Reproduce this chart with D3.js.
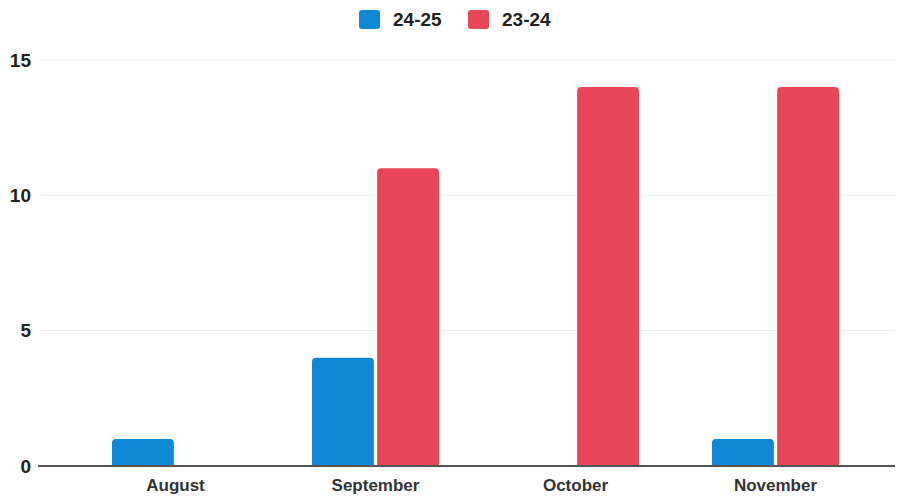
<!DOCTYPE html>
<html>
<head>
<meta charset="utf-8">
<script src="https://cdn.jsdelivr.net/npm/d3@7"></script>
<style>
  html, body { margin: 0; padding: 0; background: #fff; }
  svg { display: block; font-family: "Liberation Sans", Arial, sans-serif; }
</style>
</head>
<body>
<svg id="chart" width="900" height="497"></svg>
<script>
// Monthly counts for two school years
const months = ["August", "September", "October", "November"];
const seriesNames = ["24-25", "23-24"];
const values2425 = [1, 4, 0, 1];
const values2324 = [0, 11, 14, 14];
const yTicks = [0, 5, 10, 15];
const colors = ["#0f88d3", "#e8475a"];

const seriesValues = [values2425, values2324];
const rows = months.map((m, i) => ({
  month: m,
  vals: seriesNames.map((s, j) => ({ key: s, value: seriesValues[j][i], color: colors[j] }))
}));

const svg = d3.select("#chart");
const plotLeft = 38, plotRight = 895;

const x0 = d3.scaleBand().domain(months).range([75.5, 875.5]).padding(0);
const x1 = d3.scaleBand().domain(seriesNames)
  .range([36.5, 163.5]).paddingInner(0.05);
const y = d3.scaleLinear().domain([0, 15]).range([466, 60]);

// Grid lines
svg.append("g").selectAll("line")
  .data(yTicks.filter(t => t > 0))
  .join("line")
  .attr("x1", plotLeft + 2).attr("x2", plotRight)
  .attr("y1", d => y(d)).attr("y2", d => y(d))
  .attr("stroke", "#ebebeb").attr("stroke-width", 1);

// Y axis labels
const yAxis = d3.axisLeft(y).tickValues(yTicks).tickSize(0).tickPadding(0).tickFormat(d3.format("d"));
const yg = svg.append("g").attr("transform", "translate(31,0)").call(yAxis);
yg.select(".domain").remove();
yg.selectAll("text")
  .attr("font-size", 19).attr("font-weight", "bold").attr("fill", "#222")
  .attr("font-family", "'Liberation Sans', Arial, sans-serif");

// Bars with rounded top corners
function barPath(x, w, yTop, yBase, r) {
  const h = yBase - yTop;
  if (h <= 0) return "";
  const rr = Math.min(r, h, w / 2);
  return `M${x},${yBase}V${yTop + rr}Q${x},${yTop} ${x + rr},${yTop}` +
         `H${x + w - rr}Q${x + w},${yTop} ${x + w},${yTop + rr}V${yBase}Z`;
}

const groups = svg.append("g").selectAll("g")
  .data(rows).join("g")
  .attr("transform", d => `translate(${x0(d.month)},0)`);

groups.selectAll("path")
  .data(d => d.vals.filter(v => v.value > 0))
  .join("path")
  .attr("d", v => barPath(x1(v.key), x1.bandwidth(), y(v.value), y(0), 4))
  .attr("fill", v => v.color);

// Baseline
svg.append("line")
  .attr("x1", plotLeft).attr("x2", plotRight)
  .attr("y1", y(0)).attr("y2", y(0))
  .attr("stroke", "#555").attr("stroke-width", 2);

// X axis labels
const xAxis = d3.axisBottom(x0).tickSize(0).tickPadding(0);
const xg = svg.append("g").attr("transform", `translate(0,${y(0)})`).call(xAxis);
xg.select(".domain").remove();
xg.selectAll("text")
  .attr("y", 25).attr("dy", "0")
  .attr("font-size", 17).attr("font-weight", "bold").attr("fill", "#333")
  .attr("font-family", "'Liberation Sans', Arial, sans-serif");

// Legend
const legendX = [359, 468];
const legend = svg.append("g").selectAll("g")
  .data(seriesNames).join("g")
  .attr("transform", (d, i) => `translate(${legendX[i]},10)`);
legend.append("rect")
  .attr("width", 21).attr("height", 19).attr("rx", 3)
  .attr("fill", (d, i) => colors[i]);
legend.append("text")
  .attr("x", 34).attr("y", 16)
  .attr("font-size", 19).attr("font-weight", "bold").attr("fill", "#222")
  .text(d => d);
</script>
</body>
</html>
